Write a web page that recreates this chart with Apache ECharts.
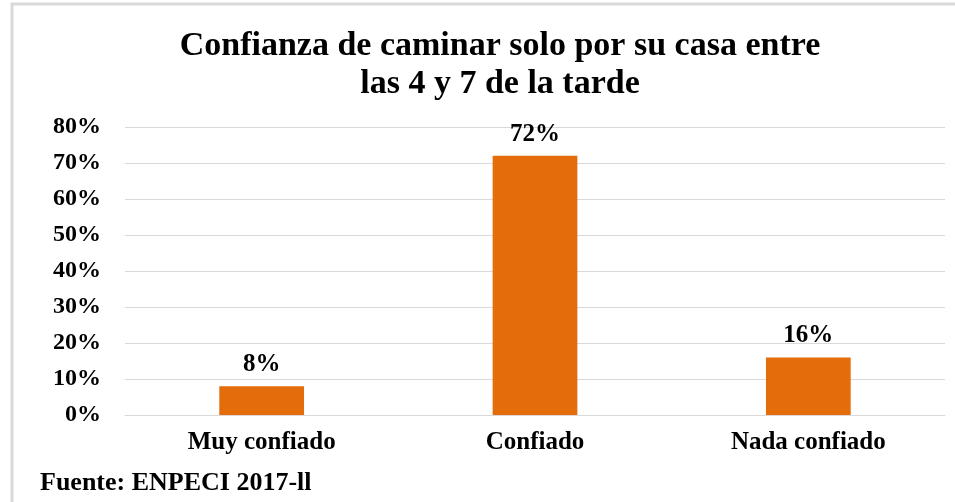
<!doctype html>
<html lang="es">
<head>
<meta charset="UTF-8"/>
<title>Confianza de caminar solo por su casa</title>
<script src="https://cdn.jsdelivr.net/npm/echarts@6/dist/echarts.min.js"></script>
<style>
html,body{margin:0;padding:0;background:#fff;}
#chart{width:955px;height:502px;}
</style>
</head>
<body>

<div id="chart"></div>

<script>

var categories = ['Muy confiado', 'Confiado', 'Nada confiado'];
var values = [8, 72, 16];
var yTicks = [0, 10, 20, 30, 40, 50, 60, 70, 80];

var serif = '"Liberation Serif", "Times New Roman", serif';

var myChart = echarts.init(document.getElementById('chart'));

var option = {
    backgroundColor: '#fff',
    title: {
        text: 'Confianza de caminar solo por su casa entre\nlas 4 y 7 de la tarde',
        left: 495,
        textAlign: 'center',
        top: 22,
        textStyle: {
            fontFamily: serif,
            fontWeight: 'bold',
            fontSize: 34,
            lineHeight: 38,
            color: '#000'
        }
    },
    grid: {
        left: 125,
        right: 10,
        top: 127,
        bottom: 87
    },
    xAxis: {
        type: 'category',
        data: categories,
        axisTick: { show: false },
        axisLine: { lineStyle: { color: '#d9d9d9', width: 1 } },
        axisLabel: {
            margin: 15,
            fontFamily: serif,
            fontWeight: 'bold',
            fontSize: 25,
            color: '#000'
        }
    },
    yAxis: {
        type: 'value',
        min: yTicks[0],
        max: yTicks[yTicks.length - 1],
        interval: 10,
        axisLine: { show: false },
        axisTick: { show: false },
        splitLine: { lineStyle: { color: '#d9d9d9', width: 1 } },
        axisLabel: {
            margin: 24,
            formatter: '{value}%',
            fontFamily: serif,
            fontWeight: 'bold',
            fontSize: 24,
            color: '#000'
        }
    },
    series: [
        {
            type: 'bar',
            data: values,
            barWidth: '31%',
            itemStyle: { color: '#E46C0A' },
            label: {
                show: true,
                position: 'top',
                distance: 9,
                formatter: '{c}%',
                fontFamily: serif,
                fontWeight: 'bold',
                fontSize: 25,
                color: '#000'
            }
        }
    ],
    graphic: [
        {
            type: 'polyline',
            shape: { points: [[12, 502], [12, 4], [955, 4]] },
            style: { stroke: '#d9d9d9', lineWidth: 3, fill: null }
        },
        {
            type: 'text',
            left: 40,
            top: 470,
            style: {
                text: 'Fuente: ENPECI 2017-ll',
                font: 'bold 26px ' + serif,
                fill: '#000'
            }
        }
    ]
};

myChart.setOption(option);

</script>

</body>
</html>
